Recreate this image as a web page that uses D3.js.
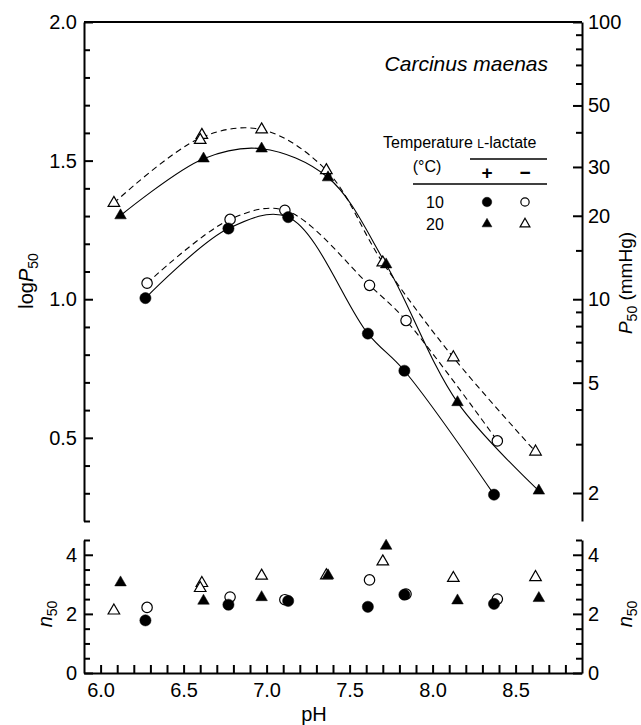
<!DOCTYPE html>
<html>
<head>
<meta charset="utf-8">
<script src="https://cdn.jsdelivr.net/npm/d3@7"></script>
<style>
  body { margin: 0; background: #fff; }
  svg text { font-family: 'Liberation Sans', Arial, Helvetica, sans-serif; fill: #000; }
</style>
</head>
<body>
<svg id="chart" width="641" height="725"></svg>
<script>
// 10 °C, with L-lactate (filled circles)
const ph10Plus = [6.27, 6.77, 7.13, 7.61, 7.83, 8.37];
const logP10Plus = [1.004, 1.255, 1.296, 0.876, 0.742, 0.295];
const n10Plus = [1.78, 2.31, 2.44, 2.24, 2.65, 2.34];

// 10 °C, without L-lactate (open circles)
const ph10Minus = [6.28, 6.78, 7.11, 7.62, 7.84, 8.39];
const logP10Minus = [1.058, 1.288, 1.321, 1.05, 0.923, 0.489];
const n10Minus = [2.22, 2.57, 2.48, 3.15, 2.67, 2.50];

// 20 °C, with L-lactate (filled triangles)
const ph20Plus = [6.12, 6.62, 6.97, 7.37, 7.72, 8.15, 8.64];
const logP20Plus = [1.302, 1.507, 1.543, 1.439, 1.125, 0.628, 0.309];
const n20Plus = [3.06, 2.44, 2.56, 3.30, 4.30, 2.45, 2.53];

// 20 °C, without L-lactate (open triangles)
const ph20Minus = [6.08, 6.61, 6.60, 6.97, 7.36, 7.70, 8.125, 8.62];
const logP20Minus = [1.347, 1.592, 1.574, 1.612, 1.465, 1.132, 0.79, 0.45];
const n20Minus = [2.11, 3.04, 2.87, 3.29, 3.30, 3.77, 3.21, 3.24];

const logTicks = d3.range(2, 21).map(d => d / 10);
const p50Ticks = [2, 3, 4, 5, 6, 7, 8, 9, 10, 15, 20, 30, 40, 50, 60, 70, 80, 90, 100];
const p50Labels = [2, 5, 10, 20, 30, 50, 100];
const nTicks = d3.range(0, 10).map(d => d / 2);
const nLabels = [0, 2, 4];
const phTicks = d3.range(60, 89).map(d => d / 10);

const series = [
  { ph: ph10Minus, logP: logP10Minus, n: n10Minus, shape: 'circle', filled: false, dashed: true },
  { ph: ph20Minus, logP: logP20Minus, n: n20Minus, shape: 'triangle', filled: false, dashed: true },
  { ph: ph10Plus, logP: logP10Plus, n: n10Plus, shape: 'circle', filled: true, dashed: false },
  { ph: ph20Plus, logP: logP20Plus, n: n20Plus, shape: 'triangle', filled: true, dashed: false }
];

const svg = d3.select('#chart');
const fontSize = 20;

const x = d3.scaleLinear().domain([5.9, 8.9]).range([84, 582]);
const yTop = d3.scaleLinear().domain([0.2, 2.0]).range([521, 22]);
const yP50 = d3.scaleLog().domain([Math.pow(10, 0.2), 100]).range([521, 22]);
const yN = d3.scaleLinear().domain([0, 4.5]).range([673, 540]);

function tidy(g, isMajor, longLen, shortLen, attr, sign) {
  g.attr('font-size', fontSize).attr('font-family', null);
  g.select('.domain').attr('stroke-width', 2);
  g.selectAll('.tick line')
    .attr('stroke-width', 2)
    .attr(attr, d => sign * (isMajor(d) ? longLen : shortLen));
}

// ---- top panel axes
const majorLog = d => Math.round(d * 10) % 5 === 0;
svg.append('g')
  .attr('transform', 'translate(84,0)')
  .call(d3.axisLeft(yTop).tickValues(logTicks).tickSizeInner(-9).tickSizeOuter(0).tickPadding(7)
    .tickFormat(d => majorLog(d) ? d3.format('.1f')(d) : ''))
  .call(g => tidy(g, majorLog, 9, 6, 'x2', 1));

svg.append('g')
  .attr('transform', 'translate(582,0)')
  .call(d3.axisRight(yP50).tickValues(p50Ticks).tickSizeInner(-9).tickSizeOuter(0).tickPadding(6)
    .tickFormat(d => p50Labels.includes(d) ? d : ''))
  .call(g => tidy(g, d => p50Labels.includes(d), 9, 6, 'x2', -1));

svg.append('line')
  .attr('x1', x.range()[0]).attr('x2', x.range()[1])
  .attr('y1', yTop(2.0)).attr('y2', yTop(2.0))
  .attr('stroke', '#000').attr('stroke-width', 2);

// ---- bottom panel axes
const majorN = d => nLabels.includes(d);
svg.append('g')
  .attr('transform', 'translate(84,0)')
  .call(d3.axisLeft(yN).tickValues(nTicks).tickSizeInner(-9).tickSizeOuter(0).tickPadding(7)
    .tickFormat(d => majorN(d) ? d : ''))
  .call(g => tidy(g, majorN, 9, 6, 'x2', 1));

svg.append('g')
  .attr('transform', 'translate(582,0)')
  .call(d3.axisRight(yN).tickValues(nTicks).tickSizeInner(-9).tickSizeOuter(0).tickPadding(6)
    .tickFormat(d => majorN(d) ? d : ''))
  .call(g => tidy(g, majorN, 9, 6, 'x2', -1));

const majorPh = d => Math.round(d * 10) % 5 === 0;
svg.append('g')
  .attr('transform', 'translate(0,673)')
  .call(d3.axisBottom(x).tickValues(phTicks).tickSizeInner(-8).tickSizeOuter(0).tickPadding(10)
    .tickFormat(d => majorPh(d) ? d3.format('.1f')(d) : ''))
  .call(g => tidy(g, majorPh, 8, 8, 'y2', -1));

// ---- curves (top panel)
const line = d3.line()
  .x(d => x(d.ph))
  .y(d => yTop(d.logP))
  .curve(d3.curveCatmullRom.alpha(0.5));

series.forEach(s => {
  const pts = s.ph.map((p, i) => ({ ph: p, logP: s.logP[i] }));
  // replicate measurements at the same pH are averaged for the fitted line
  const merged = d3.rollups(pts, v => ({ ph: d3.mean(v, d => d.ph), logP: d3.mean(v, d => d.logP) }),
    d => Math.round(d.ph * 10)).map(d => d[1]).sort((a, b) => a.ph - b.ph);
  svg.append('path')
    .datum(merged)
    .attr('d', line)
    .attr('fill', 'none')
    .attr('stroke', '#000')
    .attr('stroke-width', 1.1)
    .attr('stroke-dasharray', s.dashed ? '6,4' : null);
});

// ---- markers
function drawMarker(g, shape, filled, cx, cy, scale) {
  const k = scale || 1;
  if (shape === 'circle') {
    g.append('circle')
      .attr('cx', cx).attr('cy', cy).attr('r', (filled ? 5.6 : 5.2) * k)
      .attr('fill', filled ? '#000' : '#fff')
      .attr('stroke', '#000').attr('stroke-width', filled ? 0.5 : 1.2);
  } else {
    g.append('path')
      .attr('d', d3.symbol(d3.symbolTriangle, 58 * k * k)())
      .attr('transform', `translate(${cx},${cy})`)
      .attr('fill', filled ? '#000' : '#fff')
      .attr('stroke', '#000').attr('stroke-width', filled ? 0.5 : 1.2);
  }
}

const marks = svg.append('g');
series.forEach(s => {
  s.ph.forEach((p, i) => {
    drawMarker(marks, s.shape, s.filled, x(p), yTop(s.logP[i]));
    drawMarker(marks, s.shape, s.filled, x(p), yN(s.n[i]));
  });
});

// ---- axis titles
const t1 = svg.append('text')
  .attr('transform', 'translate(33,281) rotate(-90)')
  .attr('text-anchor', 'middle').attr('font-size', fontSize);
t1.append('tspan').text('log');
t1.append('tspan').attr('font-style', 'italic').text('P');
t1.append('tspan').attr('font-size', 14).attr('dy', 5).text('50');

const t2 = svg.append('text')
  .attr('transform', 'translate(632,283) rotate(-90)')
  .attr('text-anchor', 'middle').attr('font-size', 19);
t2.append('tspan').attr('font-style', 'italic').text('P');
t2.append('tspan').attr('font-size', 14).attr('dy', 5).text('50');
t2.append('tspan').attr('dy', -5).text(' (mmHg)');

[[52, 614], [632, 614]].forEach(([tx, ty]) => {
  const t = svg.append('text')
    .attr('transform', `translate(${tx},${ty}) rotate(-90)`)
    .attr('text-anchor', 'middle').attr('font-size', fontSize);
  t.append('tspan').attr('font-style', 'italic').text('n');
  t.append('tspan').attr('font-size', 14).attr('dy', 5).text('50');
});

svg.append('text')
  .attr('x', 314).attr('y', 721)
  .attr('text-anchor', 'middle').attr('font-size', fontSize)
  .text('pH');

svg.append('text')
  .attr('x', 548).attr('y', 71)
  .attr('text-anchor', 'end').attr('font-size', 21).attr('font-style', 'italic')
  .text('Carcinus maenas');

// ---- legend
const leg = svg.append('g').attr('font-size', 16);
const lt = leg.append('text').attr('x', 383).attr('y', 148);
lt.append('tspan').text('Temperature ');
lt.append('tspan').attr('font-size', 12).text('L');
lt.append('tspan').text('-lactate');
leg.append('text').attr('x', 427).attr('y', 172).attr('text-anchor', 'middle').text('(°C)');
leg.append('line').attr('x1', 470).attr('x2', 547).attr('y1', 159).attr('y2', 159)
  .attr('stroke', '#000').attr('stroke-width', 1.5);
leg.append('line').attr('x1', 413).attr('x2', 547).attr('y1', 184).attr('y2', 184)
  .attr('stroke', '#000').attr('stroke-width', 1.5);
leg.append('text').attr('x', 487).attr('y', 179).attr('text-anchor', 'middle')
  .attr('font-size', 19).attr('font-weight', 'bold').text('+');
leg.append('text').attr('x', 525).attr('y', 179).attr('text-anchor', 'middle')
  .attr('font-size', 19).attr('font-weight', 'bold').text('−');
leg.append('text').attr('x', 435).attr('y', 208).attr('text-anchor', 'middle').text('10');
leg.append('text').attr('x', 435).attr('y', 230).attr('text-anchor', 'middle').text('20');
drawMarker(leg, 'circle', true, 487, 202, 0.85);
drawMarker(leg, 'circle', false, 525, 202, 0.8);
drawMarker(leg, 'triangle', true, 487, 224, 0.85);
drawMarker(leg, 'triangle', false, 525, 224, 0.85);
</script>
</body>
</html>
